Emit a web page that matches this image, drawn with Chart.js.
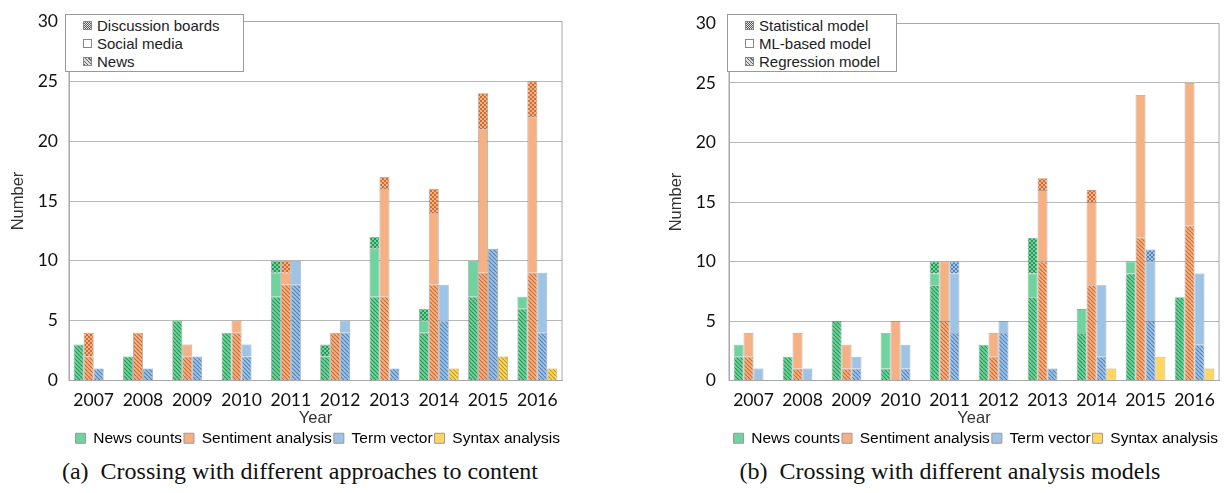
<!DOCTYPE html>
<html>
<head>
<meta charset="utf-8">
<script src="https://cdn.jsdelivr.net/npm/chart.js@4.4.1/dist/chart.umd.min.js"></script>
<style>
    body { margin: 0; width: 1224px; height: 493px; background: #fff; position: relative; overflow: hidden; font-family: "Liberation Sans", Arial, sans-serif; }
    .panel { position: absolute; top: 0; }
    .key { position: absolute; top: 14px; height: 58px; border: 1px solid #9a9a9a; background: #fff; font-size: 15px; color: #222; box-sizing: border-box; z-index: 2; }
    .key div { position: absolute; left: 31px; line-height: 17px; white-space: nowrap; }
    .key span { position: absolute; left: -14px; top: 4px; width: 9px; height: 9px; border: 1px solid #888; box-sizing: border-box; }
    .sw-dots { background: repeating-conic-gradient(#555 0 25%, #e8e8e8 0 50%) 0 0 / 2px 2px; }
    .sw-plain { background: #fff; }
    .sw-hatch { background: repeating-linear-gradient(45deg, #666 0 1px, #ddd 1px 2.5px); }
    .caption { position: absolute; top: 458px; font-family: "Liberation Serif", serif; font-size: 24px; color: #111; white-space: nowrap; transform: translateX(-50%); }
</style>
</head>
<body>
<div class="panel" id="wrapA" style="left:0;width:600px;height:456px;"><canvas id="chartA"></canvas></div>
<div class="panel" id="wrapB" style="left:655px;width:569px;height:456px;"><canvas id="chartB"></canvas></div>

<div class="key" style="left:65px;width:179px;">
    <div style="top:2px;"><span class="sw-dots"></span>Discussion boards</div>
    <div style="top:20px;"><span class="sw-plain"></span>Social media</div>
    <div style="top:38px;"><span class="sw-hatch"></span>News</div>
</div>
<div class="key" style="left:727px;width:170px;">
    <div style="top:2px;"><span class="sw-dots"></span>Statistical model</div>
    <div style="top:20px;"><span class="sw-plain"></span>ML-based model</div>
    <div style="top:38px;"><span class="sw-hatch"></span>Regression model</div>
</div>

<div class="caption" style="left:300px;">(a)&nbsp; Crossing with different approaches to content</div>
<div class="caption" style="left:950px;">(b)&nbsp; Crossing with different analysis models</div>

<script>
const years = ['2007', '2008', '2009', '2010', '2011', '2012', '2013', '2014', '2015', '2016'];
const methods = ['News counts', 'Sentiment analysis', 'Term vector', 'Syntax analysis'];
const yTicks = [0, 5, 10, 15, 20, 25, 30];

// (a) by content source: news (hatched) / social media (plain) / discussion boards (dotted)
const aCountsNews     = [3, 2, 5, 4, 7, 2, 7, 4, 7, 6];
const aCountsSocial   = [0, 0, 0, 0, 2, 0, 4, 1, 3, 1];
const aCountsBoards   = [0, 0, 0, 0, 1, 1, 1, 1, 0, 0];
const aSentNews       = [2, 4, 2, 4, 8, 4, 7, 8, 9, 9];
const aSentSocial     = [0, 0, 1, 1, 1, 0, 9, 6, 12, 13];
const aSentBoards     = [2, 0, 0, 0, 1, 0, 1, 2, 3, 3];
const aTermNews       = [1, 1, 2, 2, 8, 4, 1, 5, 11, 4];
const aTermSocial     = [0, 0, 0, 1, 2, 1, 0, 3, 0, 5];
const aTermBoards     = [0, 0, 0, 0, 0, 0, 0, 0, 0, 0];
const aSyntaxNews     = [0, 0, 0, 0, 0, 0, 0, 1, 2, 1];
const aSyntaxSocial   = [0, 0, 0, 0, 0, 0, 0, 0, 0, 0];
const aSyntaxBoards   = [0, 0, 0, 0, 0, 0, 0, 0, 0, 0];

// (b) by analysis model: regression (hatched) / ML-based (plain) / statistical (dotted)
const bCountsReg      = [2, 2, 5, 1, 8, 3, 7, 4, 9, 7];
const bCountsML       = [1, 0, 0, 3, 1, 0, 2, 2, 1, 0];
const bCountsStat     = [0, 0, 0, 0, 1, 0, 3, 0, 0, 0];
const bSentReg        = [2, 1, 1, 0, 5, 2, 10, 8, 12, 13];
const bSentML         = [2, 3, 2, 5, 5, 2, 6, 7, 12, 12];
const bSentStat       = [0, 0, 0, 0, 0, 0, 1, 1, 0, 0];
const bTermReg        = [0, 0, 1, 1, 4, 4, 1, 2, 5, 3];
const bTermML         = [1, 1, 1, 2, 5, 1, 0, 6, 5, 6];
const bTermStat       = [0, 0, 0, 0, 1, 0, 0, 0, 1, 0];
const bSyntaxReg      = [0, 0, 0, 0, 0, 0, 0, 0, 0, 0];
const bSyntaxML       = [0, 0, 0, 0, 0, 0, 0, 1, 2, 1];
const bSyntaxStat     = [0, 0, 0, 0, 0, 0, 0, 0, 0, 0];

const plainColors = ['#6fd39d', '#f5b183', '#9dc3e6', '#ffd75e'];
const lineColors  = ['#2a9657', '#cc6e34', '#5583ba', '#c09d25'];

const hatch = (base, line) => {
    const s = 4;
    const c = document.createElement('canvas');
    c.width = c.height = s;
    const g = c.getContext('2d');
    g.fillStyle = base;
    g.fillRect(0, 0, s, s);
    g.strokeStyle = line;
    g.lineWidth = 1.2;
    g.beginPath();
    for (const k of [-s, 0, s]) {
        g.moveTo(k, 0);
        g.lineTo(k + s, s);
    }
    g.stroke();
    return g.createPattern(c, 'repeat');
};

const dots = (base, dark) => {
    const c = document.createElement('canvas');
    c.width = c.height = 4;
    const g = c.getContext('2d');
    g.fillStyle = base;
    g.fillRect(0, 0, 4, 4);
    g.fillStyle = dark;
    g.fillRect(0, 0, 2, 2);
    g.fillRect(2, 2, 2, 2);
    return g.createPattern(c, 'repeat');
};

const buildSets = (groups, layerNames) => {
    const sets = [];
    groups.forEach((layers, m) => {
        const fills = [hatch(plainColors[m], lineColors[m]), plainColors[m], dots(plainColors[m], lineColors[m])];
        layers.forEach((vals, l) => {
            sets.push({
                label: methods[m] + ' - ' + layerNames[l],
                stack: methods[m],
                data: vals.map(v => v === 0 ? null : v),
                backgroundColor: fills[l],
                borderColor: 'rgba(90, 90, 90, 0.55)',
                borderWidth: 0.8,
                categoryPercentage: 0.81,
                barPercentage: 1
            });
        });
    });
    return sets;
};

const framePlugin = {
    id: 'frame',
    afterDraw(chart) {
        const { ctx, chartArea: a } = chart;
        ctx.save();
        ctx.strokeStyle = '#a8a8a8';
        ctx.lineWidth = 1;
        ctx.strokeRect(a.left, a.top, a.right - a.left, a.bottom - a.top);
        ctx.restore();
    }
};

const makeChart = (canvasId, datasets, yWidth, titlePad, tickPad, rightPad) => {
    return new Chart(document.getElementById(canvasId), {
        type: 'bar',
        data: { labels: years, datasets },
        options: {
            responsive: true,
            maintainAspectRatio: false,
            animation: false,
            layout: { padding: { top: 17, right: rightPad, left: 0, bottom: 0 } },
            plugins: {
                tooltip: { enabled: false },
                legend: {
                    position: 'bottom',
                    align: 'end',
                    onClick: null,
                    labels: {
                        boxWidth: 10,
                        boxHeight: 10,
                        padding: 2,
                        color: '#333',
                        font: { family: 'Liberation Sans', size: 15.5 },
                        generateLabels: () => methods.map((m, i) => ({
                            text: m,
                            fillStyle: plainColors[i],
                            strokeStyle: '#999',
                            lineWidth: 1,
                            hidden: false,
                            datasetIndex: i * 3
                        }))
                    }
                }
            },
            scales: {
                x: {
                    stacked: true,
                    grid: { display: false, drawTicks: false },
                    border: { color: '#a8a8a8' },
                    ticks: { color: '#111', padding: 9, maxRotation: 0, font: { family: 'Lato', size: 17.5 } },
                    title: { display: true, text: 'Year', color: '#333', padding: { top: 0, bottom: 0 }, font: { family: 'Liberation Sans', size: 16.5 } },
                    afterFit: (s) => { s.height = 48; }
                },
                y: {
                    stacked: true,
                    min: yTicks[0],
                    max: yTicks[yTicks.length - 1],
                    afterBuildTicks: (s) => { s.ticks = yTicks.map(v => ({ value: v })); },
                    grid: { color: '#b8b8b8', drawTicks: false },
                    border: { color: '#a8a8a8' },
                    ticks: { color: '#111', padding: tickPad, font: { family: 'Lato', size: 17.5 } },
                    title: { display: true, text: 'Number', color: '#333', padding: { top: titlePad, bottom: 0 }, font: { family: 'Liberation Sans', size: 16.5 } },
                    afterFit: (s) => { s.width = yWidth; }
                }
            }
        },
        plugins: [framePlugin]
    });
};

makeChart('chartA', buildSets([
    [aCountsNews, aCountsSocial, aCountsBoards],
    [aSentNews, aSentSocial, aSentBoards],
    [aTermNews, aTermSocial, aTermBoards],
    [aSyntaxNews, aSyntaxSocial, aSyntaxBoards]
], ['News', 'Social media', 'Discussion boards']), 69, 9, 11, 38);

makeChart('chartB', buildSets([
    [bCountsReg, bCountsML, bCountsStat],
    [bSentReg, bSentML, bSentStat],
    [bTermReg, bTermML, bTermStat],
    [bSyntaxReg, bSyntaxML, bSyntaxStat]
], ['Regression model', 'ML-based model', 'Statistical model']), 74, 12, 13, 4);
</script>
</body>
</html>
